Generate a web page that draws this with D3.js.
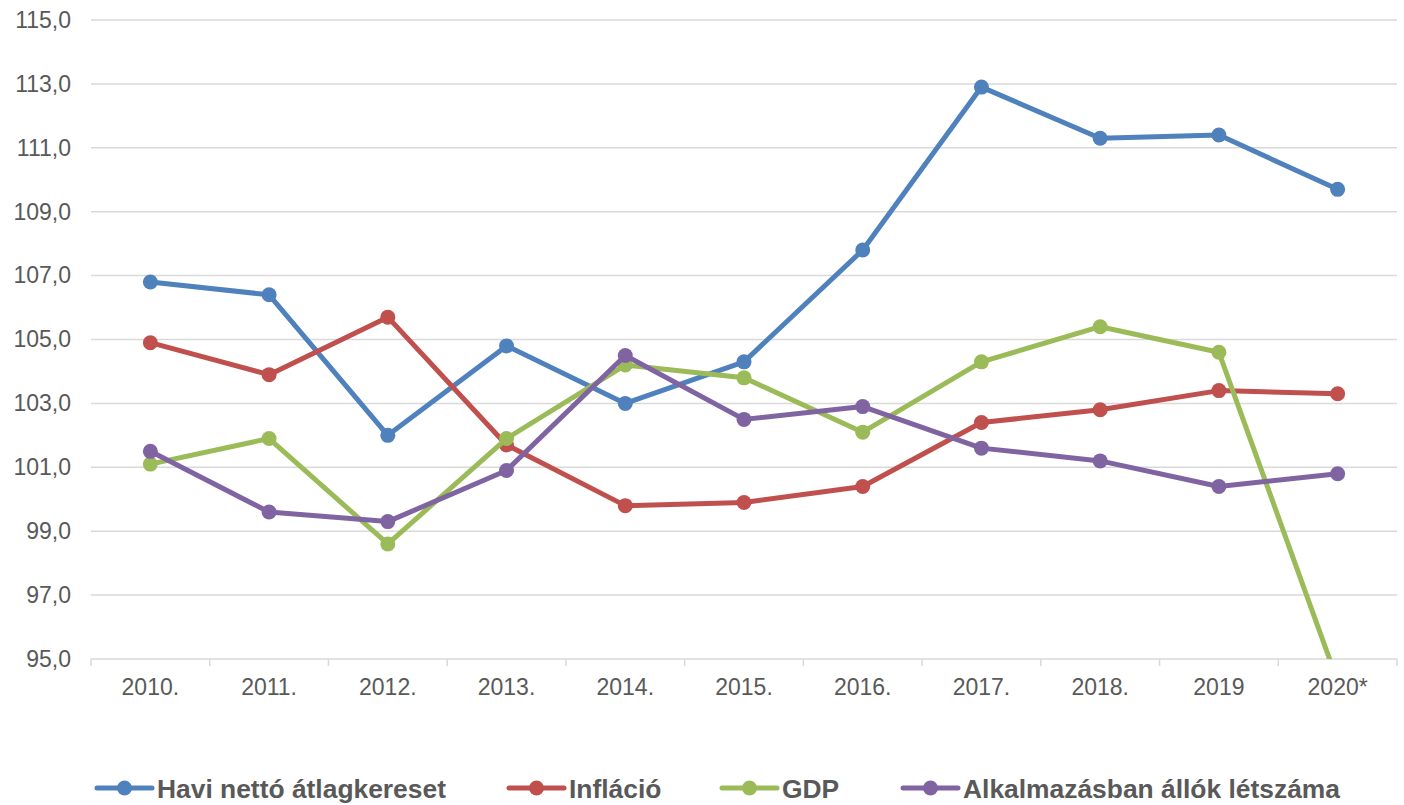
<!DOCTYPE html>
<html>
<head>
<meta charset="utf-8">
<script src="https://cdn.jsdelivr.net/npm/d3@7"></script>
<style>
  html, body { margin: 0; padding: 0; background: #fff; }
  svg { display: block; }
  text { font-family: "Liberation Sans", Arial, sans-serif; fill: #595959; }
</style>
</head>
<body>
<svg id="chart" width="1404" height="805"></svg>
<script>
// Év kategóriák (x tengely)
const categories = ["2010.", "2011.", "2012.", "2013.", "2014.", "2015.", "2016.", "2017.", "2018.", "2019", "2020*"];

// Előző év = 100
const haviNetto   = [106.8, 106.4, 102.0, 104.8, 103.0, 104.3, 107.8, 112.9, 111.3, 111.4, 109.7];
const inflacio    = [104.9, 103.9, 105.7, 101.7, 99.8, 99.9, 100.4, 102.4, 102.8, 103.4, 103.3];
const gdp         = [101.1, 101.9, 98.6, 101.9, 104.2, 103.8, 102.1, 104.3, 105.4, 104.6, 94.3];
const letszam     = [101.5, 99.6, 99.3, 100.9, 104.5, 102.5, 102.9, 101.6, 101.2, 100.4, 100.8];

const seriesNames = ["Havi nettó átlagkereset", "Infláció", "GDP", "Alkalmazásban állók létszáma"];
const yTicks = [95, 97, 99, 101, 103, 105, 107, 109, 111, 113, 115];

const colors = ["#4F81BD", "#C0504D", "#9BBB59", "#8064A2"];
const seriesValues = [haviNetto, inflacio, gdp, letszam];

const svg = d3.select("#chart");
const plot = { left: 91, right: 1397, top: 20, bottom: 659 };

const x = d3.scaleBand().domain(categories).range([plot.left, plot.right]).padding(0);
const y = d3.scaleLinear().domain([95, 115]).range([plot.bottom, plot.top]);
const cx = c => x(c) + x.bandwidth() / 2;

const huLocale = d3.formatLocale({ decimal: ",", thousands: " ", grouping: [3], currency: ["", " Ft"] });
const fmt = huLocale.format(".1f");

// Vízszintes rácsvonalak
svg.append("g")
  .selectAll("line")
  .data(yTicks.filter(t => t !== 95))
  .join("line")
  .attr("x1", plot.left).attr("x2", plot.right)
  .attr("y1", d => y(d)).attr("y2", d => y(d))
  .attr("stroke", "#d9d9d9").attr("stroke-width", 1.5);

// Y tengely feliratai
const yAxis = svg.append("g")
  .attr("transform", `translate(${plot.left},0)`)
  .call(d3.axisLeft(y).tickValues(yTicks).tickFormat(fmt).tickSize(0).tickPadding(20));
yAxis.select(".domain").remove();
yAxis.selectAll("text")
  .attr("font-size", 23)
  .attr("fill", "#595959")
  .attr("font-family", "Liberation Sans, Arial, sans-serif");

// X tengely: alapvonal, osztásjelek a kategóriahatárokon
const xAxisG = svg.append("g");
xAxisG.append("line")
  .attr("x1", plot.left).attr("x2", plot.right)
  .attr("y1", plot.bottom).attr("y2", plot.bottom)
  .attr("stroke", "#d9d9d9").attr("stroke-width", 1.5);
const boundaries = categories.map(c => x(c)).concat([x(categories[categories.length - 1]) + x.bandwidth()]);
xAxisG.selectAll("line.tick")
  .data(boundaries)
  .join("line")
  .attr("class", "tick")
  .attr("x1", d => d).attr("x2", d => d)
  .attr("y1", plot.bottom).attr("y2", plot.bottom + 7)
  .attr("stroke", "#d9d9d9").attr("stroke-width", 1.5);
xAxisG.selectAll("text")
  .data(categories)
  .join("text")
  .attr("x", d => cx(d))
  .attr("y", 695)
  .attr("text-anchor", "middle")
  .attr("font-size", 23)
  .text(d => d);

// Adatsorok, a rajzterületre vágva
svg.append("defs").append("clipPath").attr("id", "plotClip")
  .append("rect")
  .attr("x", plot.left).attr("y", plot.top - 10)
  .attr("width", plot.right - plot.left).attr("height", plot.bottom - plot.top + 10);

const line = d3.line().x(d => cx(d.cat)).y(d => y(d.v));
const seriesG = svg.append("g").attr("clip-path", "url(#plotClip)");

seriesValues.forEach((vals, i) => {
  const pts = vals.map((v, j) => ({ cat: categories[j], v }));
  const g = seriesG.append("g");
  g.append("path")
    .datum(pts)
    .attr("d", line)
    .attr("fill", "none")
    .attr("stroke", colors[i])
    .attr("stroke-width", 5)
    .attr("stroke-linejoin", "round");
  g.selectAll("circle")
    .data(pts)
    .join("circle")
    .attr("cx", d => cx(d.cat))
    .attr("cy", d => y(d.v))
    .attr("r", 7.5)
    .attr("fill", colors[i]);
});

// Jelmagyarázat
const legendX = [97, 509, 722, 903];
const legendY = 788;
const legend = svg.append("g");
seriesNames.forEach((name, i) => {
  const g = legend.append("g").attr("transform", `translate(${legendX[i]},${legendY})`);
  g.append("line")
    .attr("x1", 0).attr("x2", 55).attr("y1", 0).attr("y2", 0)
    .attr("stroke", colors[i]).attr("stroke-width", 5).attr("stroke-linecap", "round");
  g.append("circle").attr("cx", 27.5).attr("cy", 0).attr("r", 7.5).attr("fill", colors[i]);
  g.append("text")
    .attr("x", 60).attr("y", 9.5)
    .attr("font-size", 26.4)
    .attr("font-weight", "bold")
    .text(name);
});
</script>
</body>
</html>
